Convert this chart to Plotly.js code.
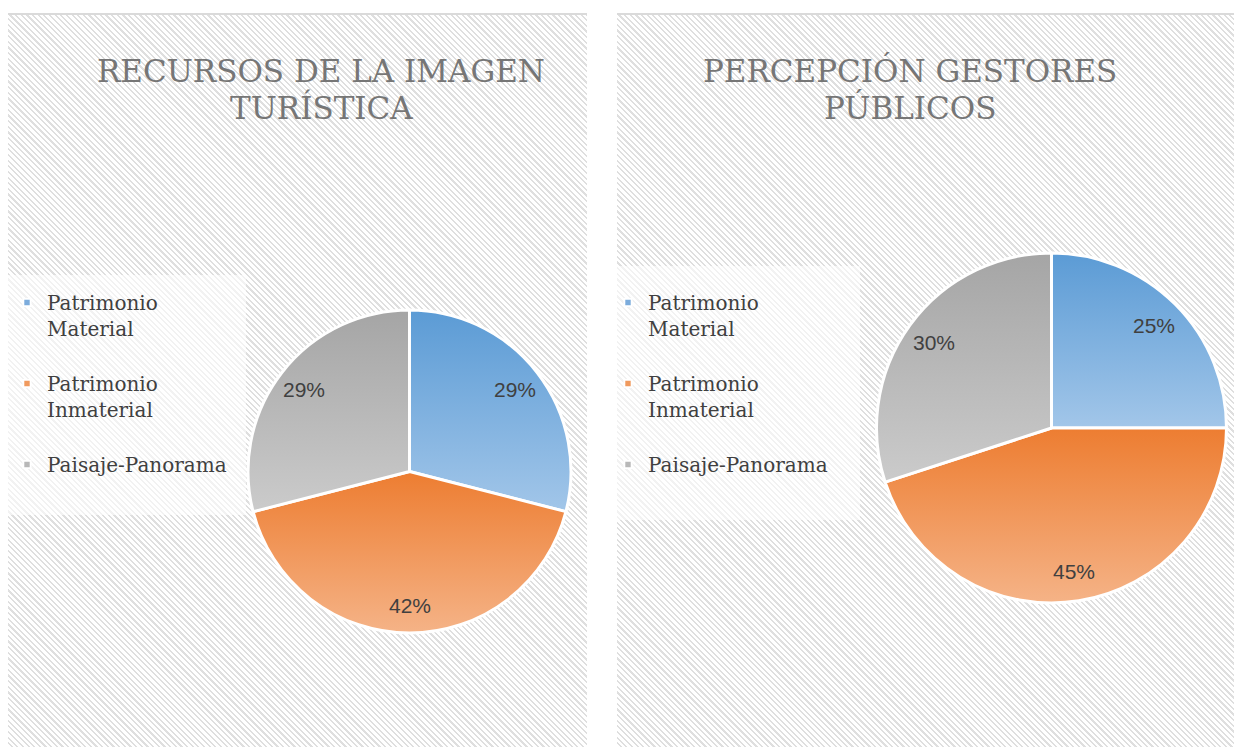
<!DOCTYPE html>
<html>
<head>
<meta charset="utf-8">
<script src="https://cdn.plot.ly/plotly-3.0.1.min.js"></script>
<style>
  html, body { margin:0; padding:0; background:#ffffff; }
  #wrap { position:relative; width:1234px; height:747px; overflow:hidden; }
  .panel { position:absolute; top:13px; height:740px;
    background: repeating-linear-gradient(45deg, #ffffff 0px, #ffffff 2.4px, #dfdfdf 2.4px, #dfdfdf 4.0px);
    border-top:2px solid #dadada; box-sizing:border-box; }
  #p1 { left:8px; width:579px; }
  #p2 { left:617px; width:630px; }
  #chart { position:absolute; left:0; top:0; width:1234px; height:747px; }
</style>
</head>
<body>
<div id="wrap">
  <div class="panel" id="p1"></div>
  <div class="panel" id="p2"></div>
  <div id="chart"></div>
</div>
<script>
// ---- data ----
const categories = ["Patrimonio<br>Material", "Patrimonio<br>Inmaterial", "Paisaje-Panorama"];
const recursosValues = [29, 42, 29];
const percepcionValues = [25, 45, 30];
const title1Lines = ["RECURSOS DE LA IMAGEN", "TURÍSTICA"];
const title2Lines = ["PERCEPCIÓN GESTORES", "PÚBLICOS"];

// ---- style ----
const W = 1234, H = 747;
const legendColors = ["#7cacdc", "#f09a5e", "#b8b8b8"];
const gradStops = [
  ["#5b9bd5", "#a2c6e9"],
  ["#ed7d31", "#f5b387"],
  ["#a5a5a5", "#cbcbcb"]
];
const titleFont = {family: "'DejaVu Serif', serif", size: 31, color: "#767676"};
const labelFont = {family: "'Liberation Sans', Arial, sans-serif", size: 21, color: "#404040"};
const legendFont = {family: "'DejaVu Serif', serif", size: 20, color: "#404040"};

// pie boxes in pixels (left, top, right, bottom)
const pieBox1 = [248, 310, 571, 633];
const pieBox2 = [876, 253, 1227, 603];

function dom(b) { return {x: [b[0]/W, b[2]/W], y: [1 - b[3]/H, 1 - b[1]/H]}; }

function pieTrace(values, box, legendId, group) {
  return {
    type: "pie",
    labels: categories,
    values: values,
    sort: false,
    direction: "clockwise",
    rotation: 0,
    domain: dom(box),
    textinfo: "none",
    marker: {colors: legendColors, line: {color: "#ffffff", width: 3}},
    hoverinfo: "label+percent",
    legend: legendId,
    legendgroup: group
  };
}

// percentage labels placed along each slice's bisector, computed from the values
function pctLabels(values, box) {
  const cx = (box[0] + box[2]) / 2, cy = (box[1] + box[3]) / 2;
  const R = Math.min(box[2] - box[0], box[3] - box[1]) / 2;
  const total = values.reduce((a, b) => a + b, 0);
  const f = 0.83;
  let cum = 0;
  return values.map(v => {
    const mid = (cum + v / 2) / total * 2 * Math.PI;
    cum += v;
    const x = cx + f * R * Math.sin(mid), y = cy - f * R * Math.cos(mid);
    return {text: Math.round(v / total * 100) + "%", xref: "paper", yref: "paper",
      x: x / W, y: 1 - y / H, xanchor: "center", yanchor: "middle", showarrow: false, font: labelFont};
  });
}

const data = [
  pieTrace(recursosValues, pieBox1, "legend", "recursos"),
  pieTrace(percepcionValues, pieBox2, "legend2", "percepcion")
];

function titleAnn(text, x, y) {
  return {text: text, xref: "paper", yref: "paper", x: x / W, y: 1 - y / H, xanchor: "center", yanchor: "middle",
    showarrow: false, font: titleFont};
}

const legendBase = {
  font: legendFont,
  bgcolor: "rgba(0,0,0,0)",
  borderwidth: 0,
  xanchor: "left",
  yanchor: "top",
  valign: "top",
  itemclick: false,
  itemdoubleclick: false
};

function boxShape(x0, y0, x1, y1) {
  return {type: "rect", xref: "paper", yref: "paper", x0: x0 / W, x1: x1 / W, y0: 1 - y1 / H, y1: 1 - y0 / H,
    fillcolor: "rgba(255,255,255,0.6)", line: {width: 0}, layer: "below"};
}

const layout = {
  width: W,
  height: H,
  margin: {l: 0, r: 0, t: 0, b: 0},
  paper_bgcolor: "rgba(0,0,0,0)",
  plot_bgcolor: "rgba(0,0,0,0)",
  showlegend: true,
  legend: Object.assign({}, legendBase, {x: 7 / W, y: 1 - 283 / H}),
  legend2: Object.assign({}, legendBase, {x: 608 / W, y: 1 - 283 / H}),
  shapes: [boxShape(8, 275, 246, 515), boxShape(617, 266, 860, 520)],
  annotations: [
    titleAnn(title1Lines[0], 321, 71),
    titleAnn(title1Lines[1], 321, 107),
    titleAnn(title2Lines[0], 910, 71),
    titleAnn(title2Lines[1], 910, 107)
  ].concat(pctLabels(recursosValues, pieBox1), pctLabels(percepcionValues, pieBox2))
};

function decorate(gd) {
  const svg = gd.querySelector(".main-svg");
  const ns = "http://www.w3.org/2000/svg";
  let defs = svg.querySelector("defs");
  if (!defs) { defs = document.createElementNS(ns, "defs"); svg.insertBefore(defs, svg.firstChild); }
  gradStops.forEach((st, i) => {
    const g = document.createElementNS(ns, "linearGradient");
    g.setAttribute("id", "sliceGrad" + i);
    g.setAttribute("x1", "0"); g.setAttribute("y1", "0");
    g.setAttribute("x2", "0"); g.setAttribute("y2", "1");
    [[0, st[0]], [1, st[1]]].forEach(([o, c]) => {
      const s = document.createElementNS(ns, "stop");
      s.setAttribute("offset", o); s.setAttribute("stop-color", c);
      g.appendChild(s);
    });
    defs.appendChild(g);
  });
  gd.querySelectorAll(".pielayer .trace").forEach(tr => {
    tr.querySelectorAll("g.slice").forEach((sl, idx) => {
      const p = sl.querySelector("path.surface");
      if (p) p.style.fill = "url(#sliceGrad" + idx + ")";
    });
  });
  gd.querySelectorAll(".legendpoints path").forEach(p => {
    const t = p.getAttribute("transform") || "";
    p.setAttribute("transform", t + " scale(0.6)");
  });
  // widen the gap between legend entries
  gd.querySelectorAll(".infolayer > g.legend, .infolayer > g.legend2").forEach(lg => {
    lg.querySelectorAll("[clip-path]").forEach(c => c.removeAttribute("clip-path"));
    lg.querySelectorAll("g.traces").forEach((tr, i) => {
      const t = tr.getAttribute("transform") || "";
      const m = /translate\(([-\d.]+),\s*([-\d.]+)\)/.exec(t);
      if (m) tr.setAttribute("transform", "translate(" + m[1] + "," + (parseFloat(m[2]) + i * 26) + ")");
    });
  });
}

Plotly.newPlot("chart", data, layout, {displayModeBar: false, staticPlot: true}).then(decorate);
</script>
</body>
</html>
